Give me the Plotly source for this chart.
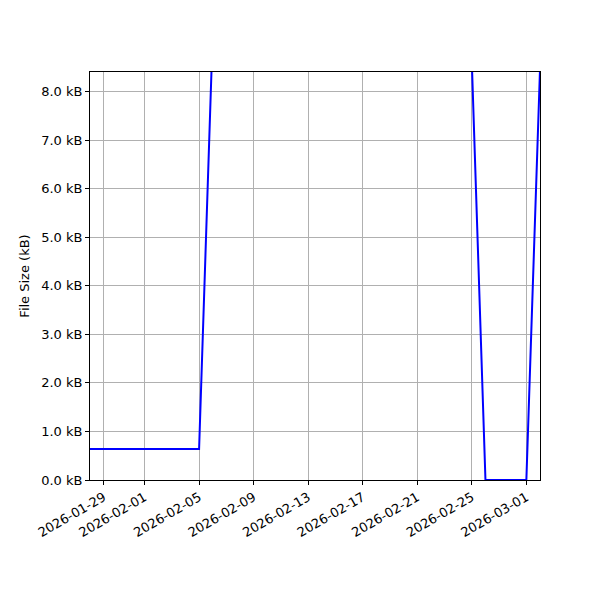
import plotly.graph_objects as go

dates = ["2026-01-28", "2026-01-29", "2026-01-30", "2026-01-31", "2026-02-01",
         "2026-02-02", "2026-02-03", "2026-02-04", "2026-02-05", "2026-02-06",
         "2026-02-25", "2026-02-26", "2026-02-27", "2026-02-28", "2026-03-01",
         "2026-03-02"]
sizes_kb = [0.64, 0.64, 0.64, 0.64, 0.64, 0.64, 0.64, 0.64, 0.64, 9.2,
            8.6, 0.0, 0.0, 0.0, 0.0, 8.45]

tick_dates = ["2026-01-29", "2026-02-01", "2026-02-05", "2026-02-09", "2026-02-13",
              "2026-02-17", "2026-02-21", "2026-02-25", "2026-03-01"]
y_ticks = [0, 1, 2, 3, 4, 5, 6, 7, 8]
y_labels = [f"{v:.1f} kB" for v in y_ticks]

fig = go.Figure()
fig.add_trace(go.Scatter(x=dates, y=sizes_kb, mode="lines",
                         line=dict(color="blue", width=2), showlegend=False))

font = dict(family="DejaVu Sans", size=13, color="black")
fig.update_layout(
    width=600, height=600,
    margin=dict(l=82, r=68, t=64, b=128),
    paper_bgcolor="white", plot_bgcolor="white",
    font=font,
)
fig.update_xaxes(
    type="date", range=["2026-01-28", "2026-03-02"],
    tickvals=tick_dates, ticktext=tick_dates, tickangle=-30,
    showgrid=True, gridcolor="#b0b0b0", gridwidth=1,
    showline=True, linecolor="black", linewidth=1, mirror=True,
    ticks="outside", ticklen=4, tickcolor="black", zeroline=False,
)
fig.update_yaxes(
    range=[0, 8.4], tickvals=y_ticks, ticktext=y_labels,
    showgrid=True, gridcolor="#b0b0b0", gridwidth=1,
    showline=True, linecolor="black", linewidth=1, mirror=True,
    ticks="outside", ticklen=4, tickcolor="black", zeroline=False,
    title=dict(text="File Size (kB)", font=font, standoff=8),
)
fig.write_html("out.html")
